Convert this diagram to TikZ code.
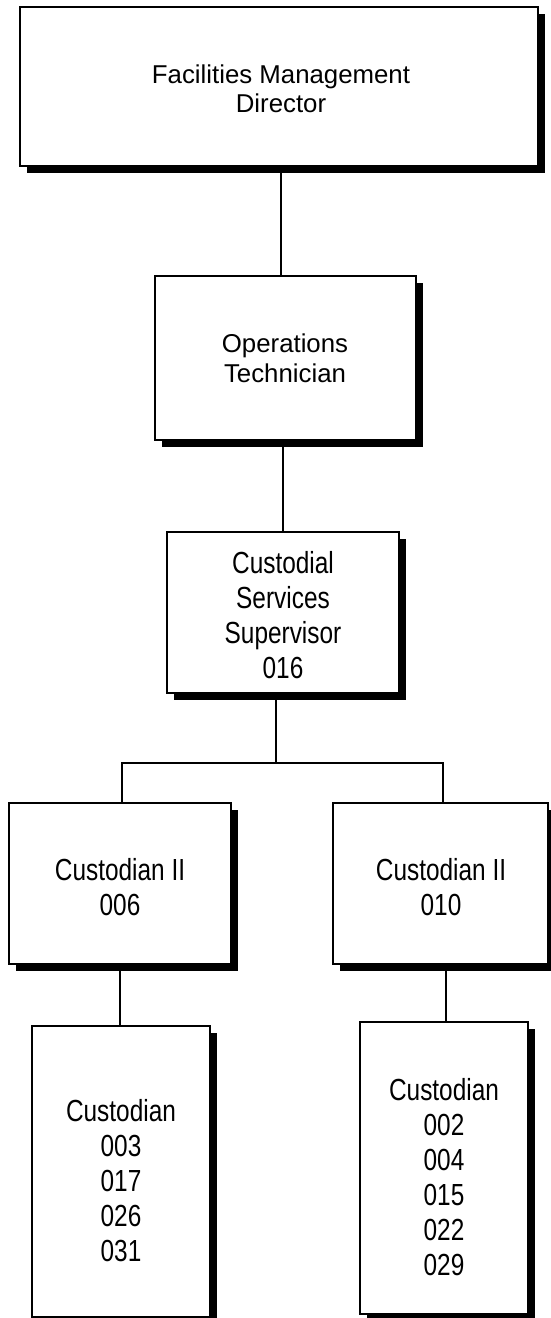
\documentclass[tikz,border=0pt]{standalone}
\usepackage{fontspec}
\setmainfont{Liberation Sans}
\newfontfamily\narrowfont[FakeStretch=0.8]{Liberation Sans}
\usetikzlibrary{shadows}

\begin{document}
\begin{tikzpicture}[x=1pt,y=-1pt,
  box/.style={draw=black, line width=1.6pt, fill=white, inner sep=0pt,
    drop shadow={shadow xshift=7pt, shadow yshift=-7pt, fill=black, opacity=1}},
  wide/.style={align=center, inner sep=0pt, font=\fontsize{25.8}{29.5}\selectfont},
  narrow/.style={align=center, inner sep=0pt, font=\narrowfont\fontsize{30.5}{35}\selectfont},
  link/.style={draw=black, line width=1.8pt}]

\useasboundingbox (0,0) rectangle (551,1318);

% boxes
\node[box, minimum width=518pt, minimum height=159pt] (dir) at (279,86.5) {};
\node[box, minimum width=261pt, minimum height=164pt] (ops) at (285.5,358) {};
\node[box, minimum width=232pt, minimum height=161pt] (sup) at (283,612.5) {};
\node[box, minimum width=222pt, minimum height=161pt] (cta) at (120,883.5) {};
\node[box, minimum width=215pt, minimum height=161pt] (ctb) at (440.5,883.5) {};
\node[box, minimum width=178pt, minimum height=291pt] (cua) at (121,1171.5) {};
\node[box, minimum width=168pt, minimum height=292pt] (cub) at (444,1168) {};

% labels
\node[wide] (dirtxt) at (281,89) {Facilities Management\\Director};
\node[wide] (opstxt) at (285,358.5) {Operations\\Technician};
\node[narrow] (suptxt) at (283,615) {Custodial\\Services\\Supervisor\\016};
\node[narrow] (ctatxt) at (120,887) {Custodian II\\006};
\node[narrow] (ctbtxt) at (441,887) {Custodian II\\010};
\node[narrow] (cuatxt) at (121,1181) {Custodian\\003\\017\\026\\031};
\node[narrow] (cubtxt) at (444,1177) {Custodian\\002\\004\\015\\022\\029};

% connector columns
\coordinate (c1) at (281,0);
\coordinate (c2) at (283,0);
\coordinate (j) at (276,763);
\coordinate (ka) at (122,0);
\coordinate (kb) at (443,0);
\coordinate (la) at (120,0);
\coordinate (lb) at (446,0);

% connectors
\draw[link] (dir.south -| c1) -- (ops.north -| c1);
\draw[link] (ops.south -| c2) -- (sup.north -| c2);
\draw[link] (sup.south -| j) -- (j);
\draw[link] (cta.north -| ka) |- (j) -| (ctb.north -| kb);
\draw[link] (cta.south -| la) -- (cua.north -| la);
\draw[link] (ctb.south -| lb) -- (cub.north -| lb);
\end{tikzpicture}
\end{document}
